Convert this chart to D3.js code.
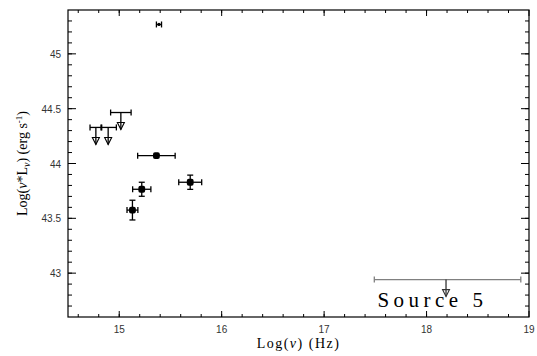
<!DOCTYPE html>
<html>
<head>
<meta charset="utf-8">
<script src="https://cdn.jsdelivr.net/npm/d3@7"></script>
<style>
  body { margin: 0; background: #fff; }
  svg { display: block; }
  .tick-label { font-family: "Liberation Sans", Arial, sans-serif; font-size: 10px; fill: #333; }
  .axis-title { font-family: "Liberation Serif", "Times New Roman", serif; font-size: 14px; fill: #000; }
</style>
</head>
<body>
<svg id="chart" width="537" height="356"></svg>
<script>
// detections: log nu, log nuLnu, x error, y error
var detX    = [15.388, 15.363, 15.693, 15.220, 15.129];
var detY    = [45.268, 44.071, 43.829, 43.765, 43.575];
var detXErr = [0.025, 0.183, 0.112, 0.089, 0.053];
var detYErr = [0.008, 0.018, 0.065, 0.064, 0.090];

// upper limits
var limX    = [15.016, 14.772, 14.892, 18.19];
var limY    = [44.465, 44.329, 44.329, 42.941];
var limXLo  = [0.100, 0.057, 0.070, 0.70];
var limXHi  = [0.100, 0.057, 0.080, 0.73];
var limGray = [false, false, false, true];

var xTicks = [15, 16, 17, 18, 19];
var yTicks = [43, 43.5, 44, 44.5, 45];
var sourceLabel = "Source 5";

var svg = d3.select("#chart"),
    margin = {top: 10, right: 8, bottom: 39, left: 68},
    width = +svg.attr("width") - margin.left - margin.right,
    height = +svg.attr("height") - margin.top - margin.bottom,
    g = svg.append("g").attr("transform", "translate(" + margin.left + "," + margin.top + ")");

var xScale = d3.scaleLinear().domain([14.5, 19]).range([0, width]),
    yScale = d3.scaleLinear().domain([42.6, 45.4]).range([height, 0]);

var xMinor = d3.range(14.6, 19, 0.2).map(function(d) { return +d.toFixed(1); });
var yMinor = d3.range(42.7, 45.4, 0.1).map(function(d) { return +d.toFixed(1); });

// frame
g.append("rect")
  .attr("width", width).attr("height", height)
  .attr("fill", "none").attr("stroke", "#000").attr("stroke-width", 1.2);

// ticks on all four sides, pointing inward
function tickLines(vals, len, horizontal) {
  vals.forEach(function(v) {
    if (horizontal) {
      var x = xScale(v);
      g.append("line").attr("x1", x).attr("x2", x).attr("y1", height).attr("y2", height - len).attr("stroke", "#000");
      g.append("line").attr("x1", x).attr("x2", x).attr("y1", 0).attr("y2", len).attr("stroke", "#000");
    } else {
      var y = yScale(v);
      g.append("line").attr("y1", y).attr("y2", y).attr("x1", 0).attr("x2", len).attr("stroke", "#000");
      g.append("line").attr("y1", y).attr("y2", y).attr("x1", width).attr("x2", width - len).attr("stroke", "#000");
    }
  });
}
tickLines(xMinor, 3, true);
tickLines(xTicks, 6, true);
tickLines(yMinor, 4, false);
tickLines(yTicks, 8, false);

g.selectAll(".xl").data(xTicks).enter().append("text")
  .attr("class", "tick-label")
  .attr("x", function(d) { return xScale(d); })
  .attr("y", height + 16)
  .attr("text-anchor", "middle")
  .text(function(d) { return d; });

g.selectAll(".yl").data(yTicks).enter().append("text")
  .attr("class", "tick-label")
  .attr("x", -7)
  .attr("y", function(d) { return yScale(d) + 4; })
  .attr("text-anchor", "end")
  .text(function(d) { return d; });

// axis titles
var xt = svg.append("text").attr("class", "axis-title")
  .attr("x", margin.left + width / 2).attr("y", 348).attr("text-anchor", "middle")
  .attr("font-size", "15px").attr("letter-spacing", "1.5px");
xt.append("tspan").text("Log(");
xt.append("tspan").attr("font-style", "italic").text("\u03bd");
xt.append("tspan").text(")  (Hz)");

var yt = svg.append("text").attr("class", "axis-title")
  .attr("transform", "translate(27," + (margin.top + height / 2) + ") rotate(-90)")
  .attr("text-anchor", "middle");
yt.append("tspan").text("Log(");
yt.append("tspan").attr("font-style", "italic").text("\u03bd");
yt.append("tspan").text("*L");
yt.append("tspan").attr("font-style", "italic").attr("font-size", "10px").attr("dy", 3).text("\u03bd");
yt.append("tspan").attr("dy", -3).text(")  (erg s");
yt.append("tspan").attr("font-size", "9px").attr("dy", -5).text("-1");
yt.append("tspan").attr("dy", 5).text(")");

// detections with error bars
var cap = 3;
detX.forEach(function(xv, i) {
  var x = xScale(xv), y = yScale(detY[i]);
  var x0 = xScale(xv - detXErr[i]), x1 = xScale(xv + detXErr[i]);
  var y0 = yScale(detY[i] - detYErr[i]), y1 = yScale(detY[i] + detYErr[i]);
  var pg = g.append("g").attr("stroke", "#000").attr("stroke-width", 1.3);
  pg.append("line").attr("x1", x0).attr("x2", x1).attr("y1", y).attr("y2", y);
  pg.append("line").attr("x1", x0).attr("x2", x0).attr("y1", y - cap).attr("y2", y + cap);
  pg.append("line").attr("x1", x1).attr("x2", x1).attr("y1", y - cap).attr("y2", y + cap);
  pg.append("line").attr("x1", x).attr("x2", x).attr("y1", y0).attr("y2", y1);
  if (y0 - y1 > 4) {
    pg.append("line").attr("x1", x - cap).attr("x2", x + cap).attr("y1", y0).attr("y2", y0);
    pg.append("line").attr("x1", x - cap).attr("x2", x + cap).attr("y1", y1).attr("y2", y1);
  }
  if (i === 0) {
    g.append("circle").attr("cx", x).attr("cy", y).attr("r", 1.6).attr("fill", "#000");
  } else {
    g.append("rect").attr("x", x - 3.4).attr("y", y - 3.4).attr("width", 6.8).attr("height", 6.8)
      .attr("rx", 2).attr("fill", "#000");
  }
});

// upper limits with down arrows
limX.forEach(function(xv, i) {
  var x = xScale(xv), y = yScale(limY[i]);
  var x0 = xScale(xv - limXLo[i]), x1 = xScale(xv + limXHi[i]);
  var hcol = limGray[i] ? "#808080" : "#000";
  var acol = limGray[i] ? "#333" : "#000";
  var pg = g.append("g").attr("stroke-width", 1.3);
  pg.append("line").attr("x1", x0).attr("x2", x1).attr("y1", y).attr("y2", y).attr("stroke", hcol);
  pg.append("line").attr("x1", x0).attr("x2", x0).attr("y1", y - cap).attr("y2", y + cap).attr("stroke", hcol);
  pg.append("line").attr("x1", x1).attr("x2", x1).attr("y1", y - cap).attr("y2", y + cap).attr("stroke", hcol);
  var tip = y + 17;
  pg.append("line").attr("x1", x).attr("x2", x).attr("y1", y).attr("y2", tip).attr("stroke", acol);
  pg.append("path")
    .attr("d", "M" + (x - 3.5) + "," + (tip - 7) + "L" + (x + 3.5) + "," + (tip - 7) + "L" + x + "," + tip + "Z")
    .attr("fill", "none").attr("stroke", acol).attr("stroke-width", 1.1);
});

// source label
g.append("text")
  .attr("x", xScale(17.52))
  .attr("y", yScale(42.6) - 10)
  .attr("font-family", "'Liberation Serif', 'Times New Roman', serif")
  .attr("font-size", "21px")
  .attr("letter-spacing", "4.5px")
  .attr("fill", "#000")
  .text(sourceLabel);
</script>
</body>
</html>
